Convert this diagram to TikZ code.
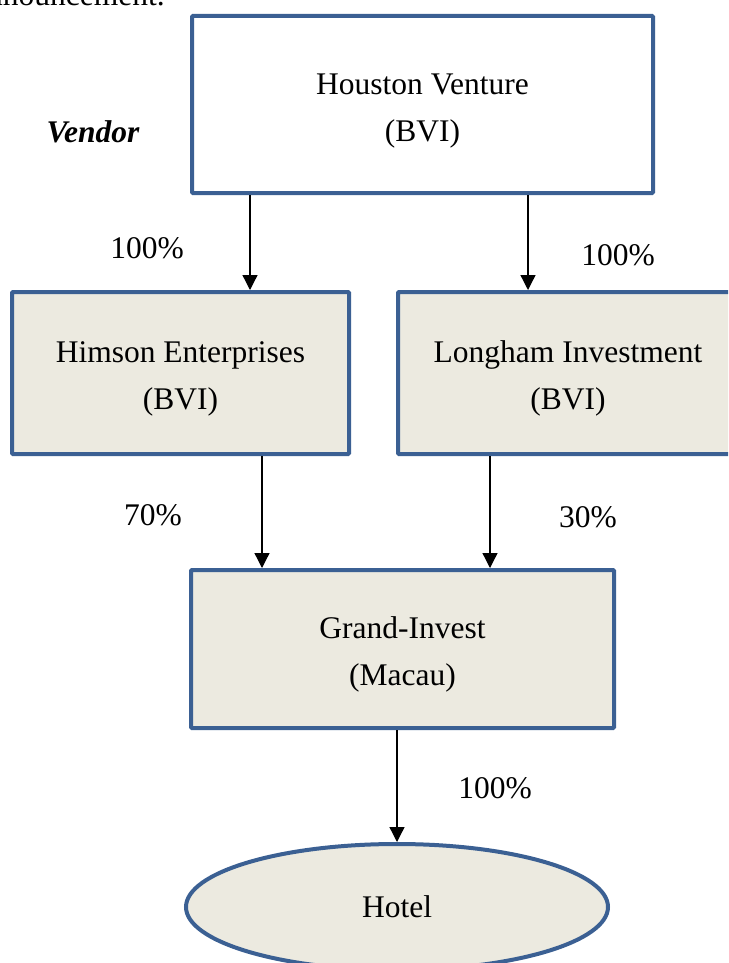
\documentclass[tikz,border=0pt]{standalone}
\usepackage{fontspec}
\setmainfont{Liberation Serif}
\usetikzlibrary{shapes.geometric,arrows.meta}
\definecolor{edgeblue}{HTML}{3B6093}
\definecolor{boxfill}{HTML}{ECEAE0}
\newcommand{\topstrut}{\rule{0pt}{33pt}}
\tikzset{
  entity/.style={draw=edgeblue, line width=4pt, rounded corners=1pt, align=center,
    font=\fontsize{31.5}{47}\selectfont, inner sep=0pt},
  pct/.style={font=\fontsize{31.5}{36}\selectfont, inner sep=0pt},
  link/.style={line width=1.3pt, -{Triangle[length=15pt,width=15pt]}}
}
\begin{document}
\begin{tikzpicture}[x=1pt,y=-1pt]
\useasboundingbox (0,0) rectangle (728,963);
\clip (0,0) rectangle (728,963);
\fill[white] (0,0) rectangle (728,963);
\node[font=\fontsize{31.5}{36}\selectfont, anchor=base east, inner sep=0pt] (ann) at (165,6) {announcement.};
\node[entity, fill=white, minimum width=461pt, minimum height=177pt] (hv) at (422.5,104.5) {\topstrut Houston Venture\\(BVI)};
\node[font=\fontsize{31.5}{36}\selectfont\bfseries\itshape, inner sep=0pt] (vendor) at (93,132) {Vendor};
\node[entity, fill=boxfill, minimum width=337pt, minimum height=162pt] (hi) at (180.5,373) {\topstrut Himson Enterprises\\(BVI)};
\node[entity, fill=boxfill, minimum width=340pt, minimum height=162pt] (lo) at (568,373) {\topstrut Longham Investment\\(BVI)};
\node[entity, fill=boxfill, minimum width=423pt, minimum height=158pt] (gi) at (402.5,649) {\topstrut Grand-Invest\\(Macau)};
\node[entity, ellipse, fill=boxfill, minimum width=422pt, minimum height=126pt] (ho) at (397,907) {Hotel};
\draw[link] (hv.south -| hi.north east) ++(-101,0) coordinate (a1) -- (hi.north -| a1);
\draw[link] (hv.south -| lo.north) ++(-40,0) coordinate (a2) -- (lo.north -| a2);
\draw[link] (hi.south) ++(81.5,0) coordinate (a3) -- (gi.north -| a3);
\draw[link] (lo.south) ++(-78,0) coordinate (a4) -- (gi.north -| a4);
\draw[link] (gi.south -| ho.north) -- (ho.north);
\node[pct] (p1) at (147,248) {100\%};
\node[pct] (p2) at (618,255) {100\%};
\node[pct] (p3) at (153,515) {70\%};
\node[pct] (p4) at (588,517) {30\%};
\node[pct] (p5) at (495,788) {100\%};
\end{tikzpicture}
\end{document}
